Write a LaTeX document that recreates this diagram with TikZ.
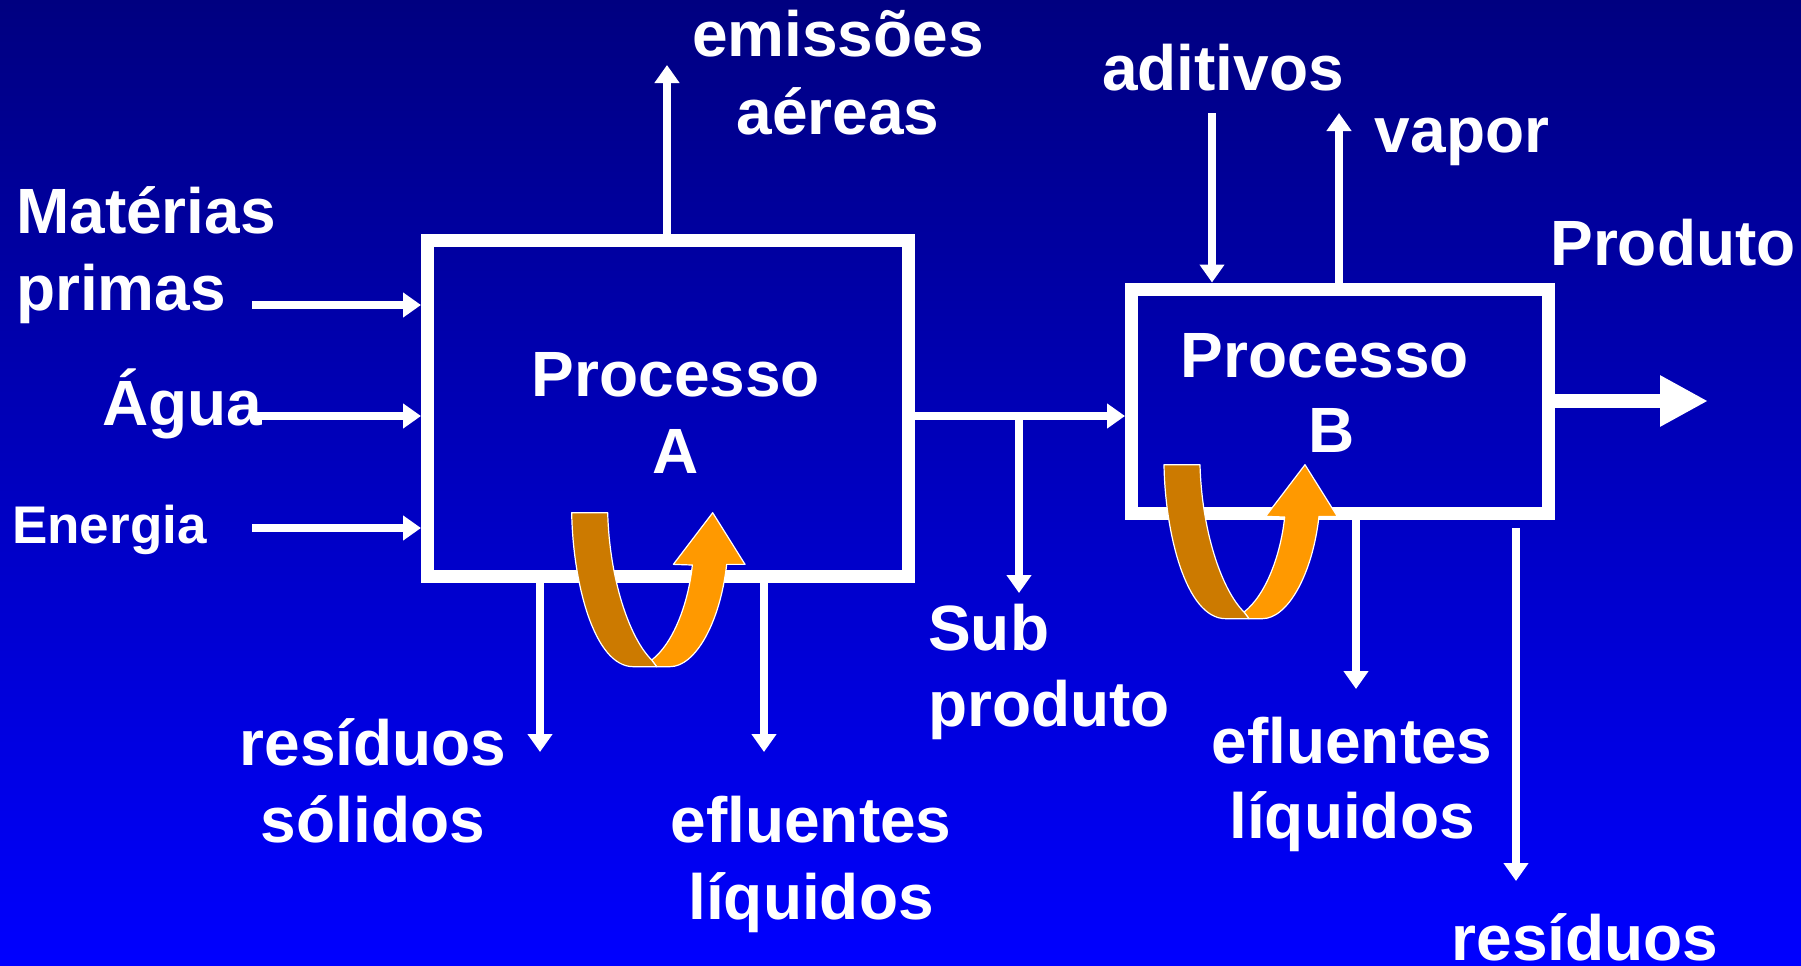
\documentclass[tikz,border=0pt]{standalone}
\usepackage{fontspec}
\setmainfont{Liberation Sans}[BoldFont={Liberation Sans Bold}]
\usetikzlibrary{arrows.meta}
\definecolor{bgtop}{RGB}{0,0,128}
\definecolor{bgbot}{RGB}{0,0,255}
\definecolor{ubrown}{RGB}{204,122,0}
\definecolor{uorange}{RGB}{255,153,0}
\tikzset{
  procbox/.style={draw=white,line width=13pt,inner sep=0pt},
  flow/.style={draw=white,line width=7.5pt,-{Triangle[length=18pt,width=24pt,fill=white]}},
  bigflow/.style={draw=white,line width=14pt,-{Triangle[length=48pt,width=48pt,fill=white]}},
  lab/.style={text=white,font=\fontsize{64}{77}\selectfont\bfseries,inner sep=0pt,anchor=base},
  labl/.style={lab,anchor=base west},
  smalllab/.style={labl,font=\fontsize{53}{64}\selectfont\bfseries},
  ubody/.style={draw=white,line width=1.2pt,line join=round}
}
\newcommand{\uarrow}[2]{%
  \begin{scope}[shift={(#1,#2)},x=0.3333pt,y=-0.3333pt]
    \path[ubody,fill=uorange] (240,442) .. controls (305,392) and (350,272) .. (362,157)
      -- (305,155) -- (423,0) -- (520,155) -- (465,155)
      .. controls (445,332) and (370,462) .. (295,462) -- (255,462) -- cycle;
    \path[ubody,fill=ubrown] (0,0) -- (108,0) .. controls (113,192) and (170,372) .. (240,442)
      -- (255,462) -- (185,462) .. controls (65,462) and (3,202) .. (0,0) -- cycle;
  \end{scope}}
\begin{document}
\begin{tikzpicture}[x=1pt,y=-1pt]
\useasboundingbox (0,0) rectangle (1801,966);
\shade[top color=bgtop,bottom color=bgbot] (0,0) rectangle (1801,966);
% boxes
\node[procbox,minimum width=480.5pt,minimum height=336pt] (boxA) at (667.75,408.5) {};
\node[procbox,minimum width=416.5pt,minimum height=224pt] (boxB) at (1339.75,401) {};
% free ends
\coordinate (mp) at (252,305);
\coordinate (ag) at (255,416);
\coordinate (en) at (252,528);
\coordinate (em) at (667,65);
\coordinate (rsa) at (540,752);
\coordinate (efa) at (764,752);
\coordinate (sb) at (1019,593);
\coordinate (ad) at (1212,113);
\coordinate (vp) at (1339,113);
\coordinate (pr) at (1708,401);
\coordinate (efb) at (1356,689);
\coordinate (rsbs) at (1516,528);
\coordinate (rsb) at (1516,881);
\coordinate (jn) at (boxB.west |- ag);
% connectors
\draw[flow] (mp) -- (mp -| boxA.west);
\draw[flow] (ag) -- (ag -| boxA.west);
\draw[flow] (en) -- (en -| boxA.west);
\draw[flow] (em |- boxA.north) -- (em);
\draw[flow] (rsa |- boxA.south) -- (rsa);
\draw[flow] (efa |- boxA.south) -- (efa);
\draw[flow] (boxA.east |- ag) -- (jn);
\draw[flow] (sb |- ag) -- (sb);
\draw[flow] (ad) -- (ad |- boxB.north);
\draw[flow] (vp |- boxB.north) -- (vp);
\draw[bigflow] (boxB.east |- pr) -- (pr);
\draw[flow] (efb |- boxB.south) -- (efb);
\draw[flow] (rsbs) -- (rsb);
% U arrows
\uarrow{571.7}{512.7}
\uarrow{1164}{464.7}
% labels
\node[lab] (t1) at (838,57) {emissões};
\node[lab] (t2) at (838,134) {aéreas};
\node[lab] (t3) at (1223,90) {aditivos};
\node[lab] (t4) at (1462,152) {vapor};
\node[lab] (t5) at (1673,265) {Produto};
\node[labl] (t6) at (16,233) {Matérias};
\node[labl] (t7) at (16,310) {primas};
\node[labl] (t8) at (102,425) {Água};
\node[smalllab] (t9) at (12,543) {Energia};
\node[lab] (t10) at (676,396) {Processo};
\node[lab] (t11) at (676,473) {A};
\node[lab] (t12) at (1325,377) {Processo};
\node[lab] (t13) at (1332,452) {B};
\node[labl] (t14) at (928,650) {Sub};
\node[labl] (t15) at (928,726) {produto};
\node[lab] (t16) at (373,765) {resíduos};
\node[lab] (t17) at (373,842) {sólidos};
\node[lab] (t18) at (811,842) {efluentes};
\node[lab] (t19) at (811,919) {líquidos};
\node[lab] (t20) at (1352,763) {efluentes};
\node[lab] (t21) at (1352,838) {líquidos};
\node[lab] (t22) at (1585,960) {resíduos};
\end{tikzpicture}
\end{document}
